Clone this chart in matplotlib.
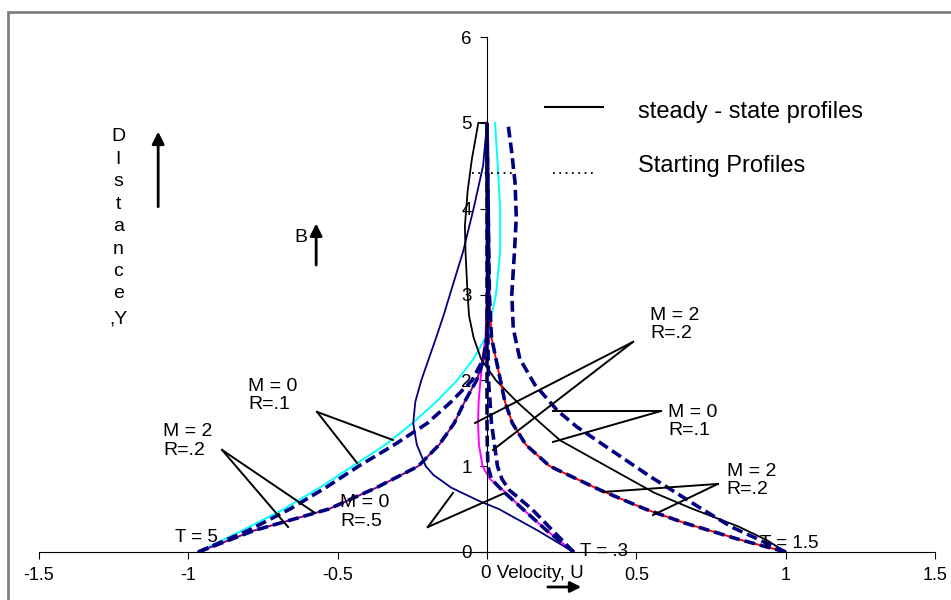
import numpy as np
import matplotlib.pyplot as plt
from matplotlib.patches import Rectangle

plt.rcParams['font.family'] = ['Liberation Sans', 'DejaVu Sans']

# T = 5, M = 0, R = .1  (steady, cyan) and starting (dashed)
y_t5_m0 = [0, 0.25, 0.5, 0.75, 1.0, 1.25, 1.5, 1.75, 2.0, 2.25, 2.5, 2.75, 3.0, 3.5, 4.0, 4.5, 5.0]
u_t5_m0_steady = [-0.967, -0.82, -0.68, -0.56, -0.45, -0.34, -0.25, -0.17, -0.10, -0.045, -0.005, 0.015, 0.03, 0.044, 0.044, 0.036, 0.027]
u_t5_m0_start = [-0.967, -0.80, -0.66, -0.54, -0.43, -0.31, -0.20, -0.12, -0.05, -0.012, 0.0, 0.004, 0.005, 0.005, 0.004, 0.002, 0.0]

# T = 5, M = 2, R = .2
y_t5_m2 = [0, 0.25, 0.5, 0.75, 1.0, 1.25, 1.5, 1.75, 2.0, 2.25, 2.5, 3.0, 3.5, 4.0, 4.5, 5.0]
u_t5_m2_steady = [-0.967, -0.78, -0.53, -0.37, -0.23, -0.16, -0.11, -0.075, -0.035, -0.01, 0.0, 0.003, 0.003, 0.002, 0.001, 0.0]
u_t5_m2_start = [-0.967, -0.78, -0.53, -0.37, -0.23, -0.16, -0.11, -0.075, -0.035, -0.01, 0.0, 0.003, 0.003, 0.002, 0.001, 0.0]

# M = 0, R = .5 (steady)
y_m0_r5 = [0, 0.25, 0.5, 0.6, 0.75, 0.9, 1.0, 1.25, 1.5, 1.75, 2.0, 2.25, 2.5, 2.75, 3.0, 3.5, 4.0, 4.5, 5.0]
u_m0_r5 = [0.29, 0.17, 0.04, -0.03, -0.12, -0.18, -0.205, -0.235, -0.247, -0.24, -0.22, -0.195, -0.17, -0.146, -0.124, -0.08, -0.045, -0.013, 0.0]

# T = .3
y_t03 = [0, 0.25, 0.5, 0.72, 0.85, 1.0, 1.25, 1.5, 1.75, 2.0, 2.25, 2.5, 3.0, 4.0, 5.0]
u_t03_steady = [0.29, 0.20, 0.12, 0.054, 0.01, -0.015, -0.027, -0.03, -0.028, -0.022, -0.015, -0.005, 0.0, 0.0, 0.0]
u_t03_start_a = [0.29, 0.20, 0.12, 0.05, 0.015, 0.003, 0.001, 0.0, 0.0, 0.0, 0.0, 0.0, 0.0, 0.0, 0.0]
u_t03_start_b = [0.29, 0.22, 0.15, 0.075, 0.05, 0.035, 0.025, 0.015, 0.01, 0.005, 0.004, 0.003, 0.002, 0.001, 0.0]

# T = 1.5, M = 0, R = .1
y_t15_m0 = [0, 0.14, 0.3, 0.5, 0.69, 1.0, 1.3, 1.5, 1.75, 2.0, 2.25, 2.5, 2.75, 3.0, 3.5, 3.8, 4.2, 4.57, 5.0, 5.0]
u_t15_m0_steady = [1.0, 0.936, 0.84, 0.69, 0.56, 0.40, 0.245, 0.18, 0.10, 0.03, -0.02, -0.045, -0.06, -0.065, -0.072, -0.074, -0.065, -0.051, -0.029, 0.0]
y_t15_m0_s = [0, 0.29, 0.5, 0.88, 1.2, 1.46, 1.65, 1.95, 2.25, 2.6, 3.0, 3.5, 3.9, 4.3, 4.65, 5.0]
u_t15_m0_start = [1.0, 0.82, 0.72, 0.546, 0.41, 0.30, 0.235, 0.16, 0.11, 0.088, 0.083, 0.092, 0.098, 0.094, 0.083, 0.07]

# T = 1.5, M = 2, R = .2
y_t15_m2 = [0, 0.15, 0.34, 0.5, 0.72, 1.0, 1.25, 1.5, 1.75, 2.0, 2.5, 3.0, 4.0, 5.0]
u_t15_m2_steady = [1.0, 0.84, 0.66, 0.53, 0.38, 0.21, 0.13, 0.085, 0.06, 0.045, 0.015, 0.008, 0.004, 0.0]
u_t15_m2_start = [1.0, 0.84, 0.66, 0.53, 0.38, 0.21, 0.13, 0.085, 0.06, 0.045, 0.015, 0.008, 0.004, 0.0]

xticks = [-1.5, -1, -0.5, 0, 0.5, 1, 1.5]
xtick_labels = ['-1.5', '-1', '-0.5', '', '0.5', '1', '1.5']
yticks = [0, 1, 2, 3, 4, 5, 6]

navy = '#000080'
dash = (0, (3, 1.4))

fig = plt.figure(figsize=(9.51, 6), dpi=100)
ax = fig.add_axes([39 / 951, 48 / 600, 896 / 951, 515 / 600])

# steady-state profiles (thin solid)
ax.plot(u_t5_m0_steady, y_t5_m0, color='#00FFFF', lw=1.4)
ax.plot(u_t5_m2_steady, y_t5_m2, color='#800080', lw=1.4)
ax.plot(u_m0_r5, y_m0_r5, color=navy, lw=1.3)
ax.plot(u_t03_steady, y_t03, color='#FF00FF', lw=1.4)
ax.plot(u_t15_m0_steady, y_t15_m0, color='black', lw=1.3)
ax.plot(u_t15_m2_steady, y_t15_m2, color='#FF0000', lw=1.4)

# starting profiles (thick dashed)
for u, y in [(u_t5_m0_start, y_t5_m0), (u_t5_m2_start, y_t5_m2),
             (u_t03_start_a, y_t03), (u_t03_start_b, y_t03),
             (u_t15_m0_start, y_t15_m0_s), (u_t15_m2_start, y_t15_m2)]:
    ax.plot(u, y, color=navy, lw=2.6, linestyle=dash)

ax.set_xlim(-1.5, 1.5)
ax.set_ylim(0, 6)
ax.spines['top'].set_visible(False)
ax.spines['right'].set_visible(False)
ax.spines['left'].set_position(('data', 0))
ax.spines['left'].set_bounds(0, 6)
ax.set_xticks(xticks)
ax.set_xticklabels(xtick_labels)
ax.set_yticks(yticks)
ax.tick_params(axis='x', direction='out', length=5, pad=6, labelsize=13)
ax.tick_params(axis='y', direction='out', length=5, pad=6, labelsize=13.5)
ax.patch.set_visible(False)

# x label merged with the 0 tick
ax.text(-0.02, -0.15, '0 Velocity, U', ha='left', va='top', fontsize=13.5)
ax.annotate('', xy=(584, 13), xytext=(545, 13), xycoords='figure pixels',
            arrowprops=dict(arrowstyle='-|>', color='black', lw=2, mutation_scale=16))

# annotations
ann = [
    ('M = 2\nR=.2', (0.546, 2.86), (0.489, 2.448), [(-0.040, 1.503), (0.020, 1.189)]),
    ('M = 0\nR=.1', (0.606, 1.73), (0.583, 1.643), [(0.221, 1.643), (0.221, 1.282)]),
    ('M = 2\nR=.2', (0.803, 1.04), (0.773, 0.793), [(0.388, 0.699), (0.556, 0.431)]),
    ('M = 0\nR=.1', (-0.80, 2.03), (-0.569, 1.632), [(-0.315, 1.305), (-0.435, 1.037)]),
    ('M = 2\nR=.2', (-1.085, 1.50), (-0.887, 1.189), [(-0.576, 0.455), (-0.666, 0.291)]),
    ('M = 0\nR=.5', (-0.492, 0.67), (-0.198, 0.291), [(-0.114, 0.688), (0.060, 0.688)]),
]
for txt, pos, v, ends in ann:
    ax.text(pos[0], pos[1], txt, ha='left', va='top', fontsize=14, linespacing=1.1)
    for e in ends:
        ax.plot([v[0], e[0]], [v[1], e[1]], color='black', lw=1.4)

ax.text(-1.045, 0.12, 'T = 5', ha='left', va='baseline', fontsize=13.5)
ax.text(0.311, 0.0, 'T = .3', ha='left', va='center', fontsize=13.5)
ax.text(0.914, 0.1, 'T = 1.5', ha='left', va='center', fontsize=13.5)

# legend-like text
ax.plot([0.194, 0.388], [5.187, 5.187], color='black', lw=1.5)
ax.text(0.506, 5.13, 'steady - state profiles', ha='left', va='center', fontsize=17)
ax.plot([-0.05, 0.087], [4.417, 4.417], color='black', lw=1.3, linestyle=(0, (1, 2.5)))
ax.plot([0.22, 0.368], [4.417, 4.417], color='black', lw=1.3, linestyle=(0, (1, 2.5)))
ax.text(0.506, 4.5, 'Starting Profiles', ha='left', va='center', fontsize=17)

# Distance, Y
letters = ['D', 'I', 's', 't', 'a', 'n', 'c', 'e']
for i, ch in enumerate(letters):
    ax.text(-1.235, 4.84 - i * 0.262, ch, ha='center', va='center', fontsize=14)
ax.text(-1.235, 2.71, ',Y', ha='center', va='center', fontsize=14)
ax.annotate('', xy=(-1.101, 4.93), xytext=(-1.101, 3.99),
            arrowprops=dict(arrowstyle='-|>', color='black', lw=2, mutation_scale=18))
ax.annotate('', xy=(-0.572, 3.86), xytext=(-0.572, 3.31),
            arrowprops=dict(arrowstyle='-|>', color='black', lw=2, mutation_scale=18))
ax.text(-0.6, 3.66, 'B', ha='right', va='center', fontsize=14)

# outer frame
fig.patches.append(Rectangle((7.5 / 951, -0.1), 1.2, (600 - 12) / 600 + 0.1,
                             transform=fig.transFigure, fill=False,
                             edgecolor='#808080', lw=2))

fig.savefig('out.png', dpi=100)
